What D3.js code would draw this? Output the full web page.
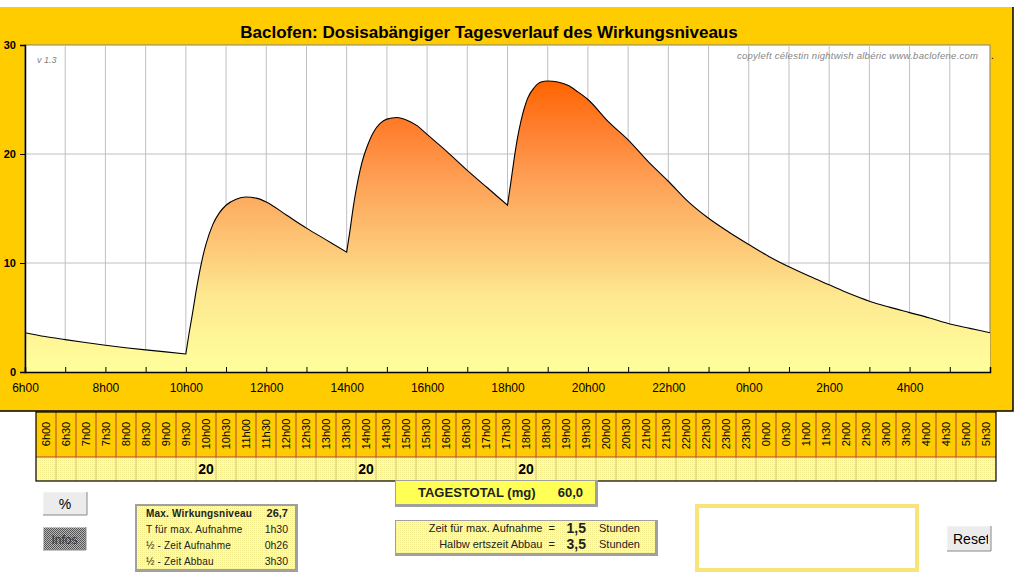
<!DOCTYPE html>
<html lang="de">
<head>
<meta charset="UTF-8">
<script src="https://d3js.org/d3.v7.min.js"></script>
<title>Baclofen Tagesverlauf</title>
<style>
    body{ margin:0; background:#fff; }
    svg{ display:block; font-family: Arial, "Liberation Sans", Helvetica, sans-serif; }
</style>
</head>
<body>
<svg width="1017" height="585"></svg>
<script>
// level curve (hours since midnight, 30 = 6h00 next day)
const hours = [6, 6.5, 7, 7.5, 8, 8.5, 9, 9.5, 10,
    10.083, 10.167, 10.25, 10.333, 10.417, 10.5, 10.667, 10.833, 11, 11.25, 11.5, 11.75, 12, 12.5, 13, 13.5, 14,
    14.083, 14.167, 14.25, 14.333, 14.417, 14.5, 14.667, 14.833, 15, 15.25, 15.5, 15.75, 16, 16.5, 17, 17.5, 18,
    18.083, 18.167, 18.25, 18.333, 18.417, 18.5, 18.667, 18.833, 19, 19.25, 19.5, 19.75, 20, 20.5, 21, 21.5, 22,
    22.5, 23, 23.5, 24, 24.5, 25, 25.5, 26, 26.5, 27, 27.5, 28, 28.5, 29, 29.5, 30]
const levels = [3.6, 3.25, 2.97, 2.7, 2.45, 2.23, 2.03, 1.85, 1.65,
    3.6, 5.4, 7.3, 9.0, 10.5, 11.7, 13.5, 14.6, 15.3, 15.85, 16.05, 15.95, 15.6, 14.4, 13.2, 12.1, 11.0,
    13.0, 15.2, 17.0, 18.5, 19.7, 20.6, 22.0, 22.8, 23.2, 23.35, 23.1, 22.6, 21.8, 20.2, 18.5, 16.9, 15.3,
    17.4, 19.6, 21.5, 23.0, 24.2, 25.1, 26.1, 26.6, 26.7, 26.6, 26.3, 25.7, 25.0, 23.0, 21.3, 19.3, 17.5,
    15.6, 14.1, 12.85, 11.7, 10.6, 9.65, 8.8, 8.0, 7.2, 6.5, 5.95, 5.45, 4.95, 4.4, 4.0, 3.6]
const doseHours = [10, 14, 18]

const yTicks = [0, 10, 20, 30]
const xTickHours = [6, 8, 10, 12, 14, 16, 18, 20, 22, 24, 26, 28]
const xTickLabels = ["6h00", "8h00", "10h00", "12h00", "14h00", "16h00", "18h00", "20h00", "22h00", "0h00", "2h00", "4h00"]

const slotLabels = ["6h00", "6h30", "7h00", "7h30", "8h00", "8h30", "9h00", "9h30", "10h00", "10h30", "11h00", "11h30",
    "12h00", "12h30", "13h00", "13h30", "14h00", "14h30", "15h00", "15h30", "16h00", "16h30", "17h00", "17h30",
    "18h00", "18h30", "19h00", "19h30", "20h00", "20h30", "21h00", "21h30", "22h00", "22h30", "23h00", "23h30",
    "0h00", "0h30", "1h00", "1h30", "2h00", "2h30", "3h00", "3h30", "4h00", "4h30", "5h00", "5h30"]
const doseSlots = ["10h00", "14h00", "18h00"]
const doseAmounts = [20, 20, 20]

const infoLabels = ["Max. Wirkungsniveau", "T für max. Aufnahme", "½ - Zeit Aufnahme", "½ - Zeit Abbau"]
const infoValues = ["26,7", "1h30", "0h26", "3h30"]
const paramLabels = ["Zeit für max. Aufnahme  =", "Halbw ertszeit Abbau  ="]
const paramValues = ["1,5", "3,5"]
const dailyTotal = "60,0"

let svg = d3.select("svg")
let defs = svg.append("defs")

// scales
let x = d3.scaleLinear().domain([6, 30]).range([25, 990])
let y = d3.scaleLinear().domain([0, 30]).range([372, 45])
let col = d3.scaleBand().domain(slotLabels).range([36, 996])

// gradient for the area
let grad = defs.append("linearGradient").attr("id", "areaGrad")
    .attr("gradientUnits", "userSpaceOnUse")
    .attr("x1", 0).attr("x2", 0).attr("y1", y(d3.max(levels))).attr("y2", y(0))
const stops = [[0, "#ff6400"], [0.17, "#ff8030"], [0.34, "#fea055"], [0.57, "#fdc878"], [0.74, "#fde890"], [0.91, "#fff898"], [1, "#ffff9c"]]
stops.forEach(s => grad.append("stop").attr("offset", s[0]).attr("stop-color", s[1]))

// little textures
let dots = defs.append("pattern").attr("id", "dots").attr("width", 2).attr("height", 2).attr("patternUnits", "userSpaceOnUse")
dots.append("rect").attr("width", 2).attr("height", 2).attr("fill", "#ffff99")
dots.append("rect").attr("width", 1).attr("height", 1).attr("fill", "#f2ec8c")
let checker = defs.append("pattern").attr("id", "checker").attr("width", 2).attr("height", 2).attr("patternUnits", "userSpaceOnUse")
checker.append("rect").attr("width", 2).attr("height", 2).attr("fill", "#b8b8b8")
checker.append("rect").attr("width", 1).attr("height", 1).attr("fill", "#555")
checker.append("rect").attr("x", 1).attr("y", 1).attr("width", 1).attr("height", 1).attr("fill", "#555")

// yellow frame
svg.append("rect").attr("x", 0).attr("y", 7).attr("width", 1013).attr("height", 404).attr("fill", "#ffcc00")
svg.append("path").attr("d", "M1013,7V411H0").attr("fill", "none").attr("stroke", "#000").attr("stroke-width", 1.5)

svg.append("text").attr("x", 489).attr("y", 38).attr("text-anchor", "middle")
    .attr("font-size", 17).attr("font-weight", "bold").attr("fill", "#000")
    .text("Baclofen: Dosisabängiger Tagesverlauf des Wirkungsniveaus")

// plot background
svg.append("rect").attr("x", x(6)).attr("y", y(30)).attr("width", x(30) - x(6)).attr("height", y(0) - y(30))
    .attr("fill", "#fff").attr("stroke", "#808080").attr("stroke-width", 1)

// grid
svg.append("g").selectAll("line").data(d3.range(7, 30)).join("line")
    .attr("x1", d => x(d)).attr("x2", d => x(d)).attr("y1", y(30)).attr("y2", y(0))
    .attr("stroke", "#c0c0c0").attr("stroke-width", 1)
svg.append("g").selectAll("line").data([10, 20]).join("line")
    .attr("x1", x(6)).attr("x2", x(30)).attr("y1", d => y(d)).attr("y2", d => y(d))
    .attr("stroke", "#c0c0c0").attr("stroke-width", 1)

svg.append("text").attr("x", 37).attr("y", 63).attr("font-size", 9).attr("font-style", "italic")
    .attr("fill", "#808080").text("v 1.3")
svg.append("text").attr("x", 978).attr("y", 59).attr("text-anchor", "end").attr("font-size", 9.5)
    .attr("font-style", "italic").attr("fill", "#858585").attr("textLength", 241).attr("lengthAdjust", "spacing")
    .text("copyleft  célestin  nightwish  albéric  www.baclofene.com")
svg.append("text").attr("x", 991).attr("y", 59).attr("font-size", 10).attr("fill", "#000").text(".")

// area + line: smooth between doses, sharp corner at each dose
let pts = hours.map((h, i) => [h, levels[i]])
let bounds = [6].concat(doseHours, [30])
let segs = d3.range(bounds.length - 1).map(k => pts.filter(p => p[0] >= bounds[k] && p[0] <= bounds[k + 1]))
let line = d3.line().x(d => x(d[0])).y(d => y(d[1])).curve(d3.curveMonotoneX)
let curvePath = segs.map((s, k) => k === 0 ? line(s) : "L" + line(s).slice(1)).join("")
svg.append("path").attr("d", curvePath + `L${x(30)},${y(0)}L${x(6)},${y(0)}Z`).attr("fill", "url(#areaGrad)")
svg.append("path").attr("d", curvePath).attr("fill", "none").attr("stroke", "#000").attr("stroke-width", 1.1)
    .attr("stroke-linejoin", "miter")

// axes
let yAxis = svg.append("g").attr("transform", `translate(${x(6)},0)`)
    .call(d3.axisLeft(y).tickValues(yTicks).tickSize(5).tickPadding(4).tickFormat(d3.format("d")))
yAxis.select(".domain").attr("stroke", "#000").attr("stroke-width", 1.5)
yAxis.selectAll("text").attr("font-size", 11).attr("font-weight", "bold").attr("font-family", null).attr("fill", "#000")

let xAxis = svg.append("g").attr("transform", `translate(0,${y(0)})`)
    .call(d3.axisBottom(x).tickValues(d3.range(6, 30)).tickSize(-5).tickPadding(11)
        .tickFormat(d => { let i = xTickHours.indexOf(d); return i < 0 ? "" : xTickLabels[i] }))
xAxis.select(".domain").attr("stroke", "#000").attr("stroke-width", 1.5)
xAxis.selectAll("text").attr("font-size", 12).attr("font-family", null).attr("fill", "#000")

// dose table
let table = svg.append("g")
table.append("rect").attr("x", 36).attr("y", 412).attr("width", 960).attr("height", 45).attr("fill", "#ffcc00")
table.append("rect").attr("x", 36).attr("y", 457).attr("width", 960).attr("height", 24).attr("fill", "url(#dots)")
table.selectAll(".sep").data(slotLabels.slice(1)).join("line").attr("class", "sep")
    .attr("x1", d => col(d)).attr("x2", d => col(d)).attr("y1", 412).attr("y2", 457)
    .attr("stroke", "#b5443a").attr("stroke-width", 1)
table.selectAll(".sep2").data(slotLabels.slice(1)).join("line").attr("class", "sep2")
    .attr("x1", d => col(d)).attr("x2", d => col(d)).attr("y1", 457).attr("y2", 481)
    .attr("stroke", "#d7c86a").attr("stroke-width", 1)
table.append("line").attr("x1", 36).attr("x2", 996).attr("y1", 457).attr("y2", 457).attr("stroke", "#b5443a")
table.append("rect").attr("x", 36).attr("y", 412).attr("width", 960).attr("height", 69)
    .attr("fill", "none").attr("stroke", "#000").attr("stroke-width", 1.2)
table.selectAll(".slot").data(slotLabels).join("text").attr("class", "slot")
    .attr("transform", d => `translate(${col(d) + col.bandwidth() / 2 + 4},434) rotate(-90)`)
    .attr("text-anchor", "middle").attr("font-size", 11).attr("fill", "#000").text(d => d)
table.selectAll(".dose").data(doseSlots).join("text").attr("class", "dose")
    .attr("x", d => col(d) + col.bandwidth() / 2).attr("y", 474).attr("text-anchor", "middle")
    .attr("font-size", 14).attr("font-weight", "bold").attr("fill", "#000").text((d, i) => doseAmounts[i])

// buttons
function button(x0, y0, w, h, fill, label, fs){
    let g = svg.append("g")
    g.append("rect").attr("x", x0).attr("y", y0).attr("width", w).attr("height", h).attr("fill", fill)
    g.append("path").attr("d", `M${x0},${y0 + h}V${y0}H${x0 + w}`).attr("fill", "none").attr("stroke", "#fafafa")
    g.append("path").attr("d", `M${x0 + w},${y0}V${y0 + h}H${x0}`).attr("fill", "none").attr("stroke", "#888")
    g.append("text").attr("x", x0 + w / 2).attr("y", y0 + h / 2 + 5).attr("text-anchor", "middle")
        .attr("font-size", fs).attr("fill", "#000").text(label)
    return g
}
button(43, 492, 44, 23, "#ececec", "%", 14)
button(43, 527, 43, 23, "url(#checker)", "Infos", 12).select("text").attr("fill", "#333")

// info box
svg.append("rect").attr("x", 135).attr("y", 504).attr("width", 163).attr("height", 68).attr("fill", "#a0a0a0")
svg.append("rect").attr("x", 137).attr("y", 506).attr("width", 158).attr("height", 63).attr("fill", "url(#dots)")
svg.selectAll(".infoL").data(infoLabels).join("text").attr("class", "infoL")
    .attr("x", 146).attr("y", (d, i) => 517 + i * 16).attr("font-size", 10).attr("letter-spacing", 0.2)
    .attr("font-weight", (d, i) => i === 0 ? "bold" : null).attr("fill", "#222").text(d => d)
svg.selectAll(".infoV").data(infoValues).join("text").attr("class", "infoV")
    .attr("x", 288).attr("y", (d, i) => 517 + i * 16).attr("text-anchor", "end").attr("font-size", (d, i) => i === 0 ? 11 : 10.5)
    .attr("font-weight", (d, i) => i === 0 ? "bold" : null).attr("fill", "#222").text(d => d)

// daily total
svg.append("rect").attr("x", 395).attr("y", 480).attr("width", 203).attr("height", 27).attr("fill", "#a0a0a0")
svg.append("rect").attr("x", 396).attr("y", 481).attr("width", 199).attr("height", 23).attr("fill", "#ffff55")
svg.append("text").attr("x", 418).attr("y", 497).attr("font-size", 13).attr("font-weight", "bold")
    .attr("fill", "#222").text("TAGESTOTAL (mg)")
svg.append("text").attr("x", 583).attr("y", 497).attr("text-anchor", "end").attr("font-size", 13).attr("font-weight", "bold")
    .attr("fill", "#222").text(dailyTotal)

// parameter box
svg.append("rect").attr("x", 395).attr("y", 520).attr("width", 263).attr("height", 36).attr("fill", "#a0a0a0")
svg.append("rect").attr("x", 396).attr("y", 521).attr("width", 259).attr("height", 32).attr("fill", "url(#dots)")
svg.selectAll(".parL").data(paramLabels).join("text").attr("class", "parL")
    .attr("x", 555).attr("y", (d, i) => 532 + i * 16).attr("text-anchor", "end").attr("font-size", 11)
    .attr("fill", "#222").style("white-space", "pre").text(d => d)
svg.selectAll(".parV").data(paramValues).join("text").attr("class", "parV")
    .attr("x", 586).attr("y", (d, i) => 533 + i * 16).attr("text-anchor", "end").attr("font-size", 14)
    .attr("font-weight", "bold").attr("fill", "#222").text(d => d)
svg.selectAll(".parU").data(paramValues).join("text").attr("class", "parU")
    .attr("x", 599).attr("y", (d, i) => 532 + i * 16).attr("font-size", 11).attr("fill", "#222").text("Stunden")

// empty message box
svg.append("rect").attr("x", 697).attr("y", 506).attr("width", 220).attr("height", 64)
    .attr("fill", "#fff").attr("stroke", "#f7e57a").attr("stroke-width", 4)

// reset button (label clipped as in the picture)
defs.append("clipPath").attr("id", "resetClip").append("rect").attr("x", 947).attr("y", 526).attr("width", 41).attr("height", 25)
let reset = button(947, 526, 44, 25, "#ececec", "Reset", 14)
reset.select("text").attr("text-anchor", "start").attr("x", 953).attr("clip-path", "url(#resetClip)")
</script>
</body>
</html>
